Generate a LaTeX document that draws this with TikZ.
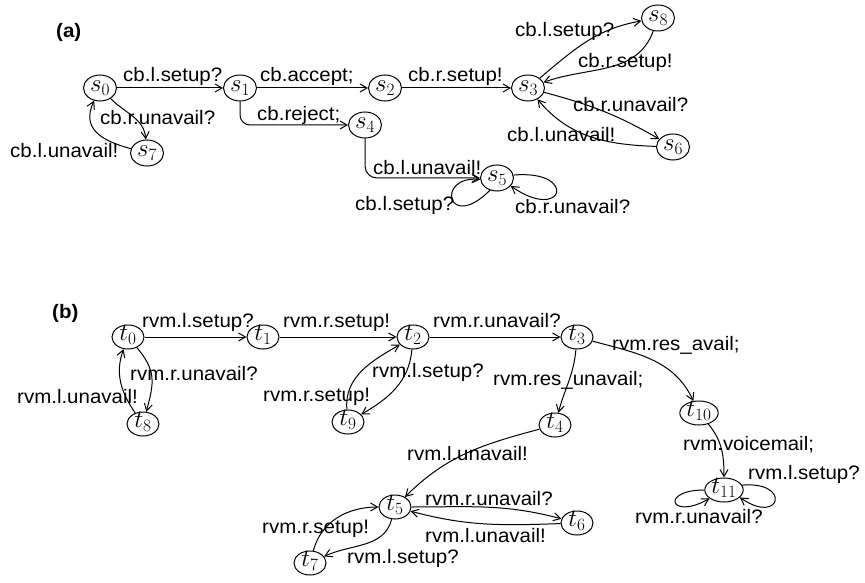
\documentclass[tikz,border=0pt]{standalone}
\usepackage[no-math]{fontspec}
\setmainfont{Liberation Sans}[FakeStretch=1.05]
\usetikzlibrary{shapes.geometric,arrows.meta}
\begin{document}
\begin{tikzpicture}[x=1pt,y=-1pt,
  st/.style={draw, ellipse, line width=1pt, inner xsep=1pt, inner ysep=0pt,
    text height=10pt, text depth=3pt, minimum width=33pt, minimum height=26pt,
    font=\fontsize{26}{26}\selectfont},
  tt/.style={st, minimum width=32pt, minimum height=24pt},
  lab/.style={anchor=base west, inner sep=0pt, font=\fontsize{19.5}{20}\selectfont},
  ttl/.style={lab, font=\fontsize{19.5}{20}\selectfont\bfseries},
  tr/.style={draw, line width=1pt, -{Straight Barb[length=7pt,width=8pt]}}]
\useasboundingbox (0,0) rectangle (865,583);

% ---------- (a) ----------
\node[ttl] (ta) at (56,38) {(a)};
\node[st] (s0) at (100,88) {$s_0$};
\node[st] (s1) at (240,88) {$s_1$};
\node[st] (s2) at (385,88) {$s_2$};
\node[st] (s3) at (528,88) {$s_3$};
\node[st] (s4) at (365,125) {$s_4$};
\node[st] (s5) at (497,178) {$s_5$};
\node[st] (s6) at (673,147) {$s_6$};
\node[st] (s7) at (147,153) {$s_7$};
\node[st] (s8) at (658,18) {$s_8$};

\draw[tr] (s0) to[out=-45,in=95] (s7);
\draw[tr] (s0) -- (s1);
\draw[tr] (s7) to[out=165,in=-115,looseness=1.3] (s0);
\draw[tr] (s1) -- (s2);
\draw[tr, rounded corners=10pt] (s1.south) |- (s4.west);
\draw[tr] (s2) -- (s3);
\draw[tr] (s3) to[out=40,in=190] (s8);
\draw[tr] (s8) to[out=-110,in=20] (s3);
\draw[tr] (s3) to[out=-15,in=150] (s6);
\draw[tr] (s6) to[out=178,in=-50] (s3);
\draw[tr, rounded corners=12pt] (s4.south) |- (s5.west);
\draw[tr] (s5.240) .. controls +(225:60pt) and +(175:45pt) .. (s5.185);
\draw[tr] (s5.10) .. controls +(5:65pt) and +(-35:65pt) .. (s5.-30);

\node[lab] (a1) at (123,82) {cb.l.setup?};
\node[lab] (a2) at (100,125) {cb.r.unavail?};
\node[lab] (a3) at (10,158) {cb.l.unavail!};
\node[lab] (a4) at (260,82) {cb.accept;};
\node[lab] (a5) at (257,121) {cb.reject;};
\node[lab] (a6) at (408,82) {cb.r.setup!};
\node[lab] (a7) at (515,37) {cb.l.setup?};
\node[lab] (a8) at (578,68) {cb.r.setup!};
\node[lab] (a9) at (573,112) {cb.r.unavail?};
\node[lab] (a10) at (507,142) {cb.l.unavail!};
\node[lab] (a11) at (373,175) {cb.l.unavail!};
\node[lab] (a12) at (355,210) {cb.l.setup?};
\node[lab] (a13) at (515,213) {cb.r.unavail?};

% ---------- (b) ----------
\node[ttl] (tb) at (52,318) {(b)};
\node[tt] (t0) at (128,337) {$t_0$};
\node[tt] (t1) at (263,337) {$t_1$};
\node[tt] (t2) at (413,337) {$t_2$};
\node[tt] (t3) at (577,337) {$t_3$};
\node[tt] (t4) at (555,425) {$t_4$};
\node[tt] (t5) at (395,507) {$t_5$};
\node[tt] (t6) at (577,523) {$t_6$};
\node[tt] (t7) at (310,563) {$t_7$};
\node[tt] (t8) at (143,424) {$t_8$};
\node[tt] (t9) at (348,422) {$t_9$};
\node[tt] (t10) at (699,413) {$t_{10}$};
\node[tt] (t11) at (724,490) {$t_{11}$};

\draw[tr] (t0) -- (t1);
\draw[tr] (t0) to[out=-50,in=75,looseness=1.2] (t8);
\draw[tr] (t8) to[out=125,in=-110] (t0);
\draw[tr] (t1) -- (t2);
\draw[tr] (t2) -- (t3);
\draw[tr] (t2) to[out=-95,in=30] (t9);
\draw[tr] (t9) to[out=95,in=-150] (t2);
\draw[tr] (t3) to[out=-95,in=75] (t4);
\draw[tr] (t3) to[out=-15,in=115] (t10);
\draw[tr] (t10) to[out=-50,in=90] (t11);
\draw[tr] (t11.15) .. controls +(5:50pt) and +(-35:50pt) .. (t11.-25);
\draw[tr] (t11.180) .. controls +(180:45pt) and +(210:45pt) .. (t11.210);
\draw[tr] (t4) to[out=195,in=45] (t5);
\draw[tr] (t5) to[out=0,in=165] (t6);
\draw[tr] (t6) to[out=182,in=-15] (t5);
\draw[tr] (t5) to[out=-105,in=25] (t7);
\draw[tr] (t7) to[out=75,in=180] (t5);

\node[lab] (b1) at (142,327) {rvm.l.setup?};
\node[lab] (b2) at (283,327) {rvm.r.setup!};
\node[lab] (b3) at (433,327) {rvm.r.unavail?};
\node[lab] (b4) at (130,380) {rvm.r.unavail?};
\node[lab] (b5) at (17,403) {rvm.l.unavail!};
\node[lab] (b6) at (372,377) {rvm.l.setup?};
\node[lab] (b7) at (263,401) {rvm.r.setup!};
\node[lab] (b8) at (493,385) {rvm.res\_unavail;};
\node[lab] (b9) at (612,350) {rvm.res\_avail;};
\node[lab] (b10) at (683,450) {rvm.voicemail;};
\node[lab] (b11) at (748,479) {rvm.l.setup?};
\node[lab] (b12) at (635,523) {rvm.r.unavail?};
\node[lab] (b13) at (407,460) {rvm.l.unavail!};
\node[lab] (b14) at (425,505) {rvm.r.unavail?};
\node[lab] (b15) at (425,542) {rvm.l.unavail!};
\node[lab] (b16) at (262,533) {rvm.r.setup!};
\node[lab] (b17) at (347,563) {rvm.l.setup?};
\end{tikzpicture}
\end{document}
